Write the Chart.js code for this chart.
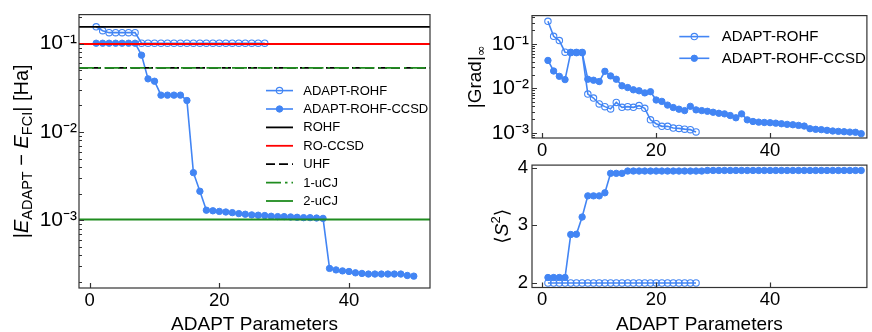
<!DOCTYPE html>
<html><head><meta charset="utf-8">
<script src="https://cdn.jsdelivr.net/npm/chart.js@4.4.1/dist/chart.umd.min.js"></script>
<style>
html,body{margin:0;padding:0;background:#fff}
#wrap{position:relative;width:872px;height:332px;overflow:hidden;background:#fff}
canvas{position:absolute}
</style></head><body>
<div id="wrap">
<canvas id="cE" width="440" height="332" style="left:0;top:0"></canvas>
<canvas id="cG" width="432" height="168" style="left:440px;top:0"></canvas>
<canvas id="cS" width="432" height="182" style="left:440px;top:150px"></canvas>
</div>
<script>
// ---------------- data ----------------
const paramsRohf = [1,2,3,4,5,6,7,8,9,10,11,12,13,14,15,16,17,18,19,20,21,22,23,24,25,26,27];
const paramsCcsdEnergy = [1,2,3,4,5,6,7,8,9,10,11,12,13,14,15,16,17,18,19,20,21,22,23,24,25,26,27,28,29,30,31,32,33,34,35,36,37,38,39,40,41,42,43,44,45,46,47,48,49,50];
const paramsCcsdGrad = [1,2,3,4,5,6,7,8,9,10,11,12,13,14,15,16,17,18,19,20,21,22,23,24,25,26,27,28,29,30,31,32,33,34,35,36,37,38,39,40,41,42,43,44,45,46,47,48,49,50,51,52,53,54,55,56];

const energyRohf = [0.155,0.140,0.133,0.133,0.133,0.133,0.133,0.101,0.101,0.101,
  0.101,0.101,0.101,0.101,0.101,0.101,0.101,0.101,0.101,0.101,
  0.101,0.101,0.101,0.101,0.101,0.101,0.101];
const energyCcsd = [0.101,0.101,0.101,0.101,0.101,0.101,0.101,0.074,0.0399,0.0375,
  0.0261,0.0261,0.0261,0.0261,0.0227,0.00346,0.00213,0.00130,0.00128,0.00126,
  0.00124,0.00122,0.00119,0.00117,0.00115,0.00114,0.00113,0.00111,0.00110,0.00110,
  0.00109,0.00108,0.00107,0.00107,0.00106,0.00105,0.000285,0.000274,0.000267,0.000263,
  0.000254,0.000250,0.000246,0.000246,0.000246,0.000246,0.000246,0.000246,0.000237,0.000233];

const refNames = ['ROHF','RO-CCSD','UHF','1-uCJ','2-uCJ'];
const refValues = [0.155,0.099,0.0531,0.0531,0.00102];

const gradRohf = [0.32,0.147,0.118,0.0648,0.0637,0.0637,0.0637,0.00743,0.00605,0.00446,
  0.00388,0.00345,0.00483,0.00374,0.00388,0.00374,0.00409,0.00356,0.00196,0.0016,
  0.0014,0.0014,0.00128,0.00126,0.00121,0.00118,0.00105];
const gradCcsd = [0.0423,0.0245,0.0186,0.0157,0.0637,0.0637,0.0637,0.016,0.0152,0.0142,
  0.0241,0.019,0.016,0.0114,0.0104,0.00927,0.0088,0.0079,0.0084,0.00547,
  0.00509,0.0042,0.0037,0.0034,0.00316,0.00394,0.00328,0.00316,0.00305,0.0029,
  0.00275,0.00267,0.00245,0.00218,0.00267,0.00196,0.0018,0.00174,0.00171,0.00169,
  0.00165,0.0016,0.00155,0.00152,0.00147,0.00142,0.00124,0.0012,0.00118,0.00114,
  0.0011,0.00108,0.00106,0.00104,0.00103,0.00096];

const s2Rohf = [2,2,2,2,2,2,2,2,2,2,2,2,2,2,2,2,2,2,2,2,2,2,2,2,2,2,2];
const s2Ccsd = [2.095,2.095,2.095,2.095,2.84,2.845,3.143,3.51,3.51,3.51,
  3.563,3.9,3.9,3.9,3.94,3.94,3.94,3.94,3.94,3.94,
  3.94,3.94,3.94,3.94,3.94,3.94,3.94,3.94,3.95,3.95,
  3.95,3.95,3.95,3.95,3.95,3.95,3.95,3.95,3.95,3.95,
  3.95,3.95,3.95,3.95,3.95,3.95,3.95,3.95,3.95,3.95,
  3.95,3.95,3.95,3.95,3.95,3.95];

const xTickValues = [0,20,40];
const logTickValues = [0.001,0.01,0.1];
const logTickLabels = ['10\u207B\u00B3','10\u207B\u00B2','10\u207B\u00B9'];
const s2TickValues = [2,3,4];
const s2TickLabels = ['2','3','4'];

// axis ranges
const energyXRange = [-1.65,52.5], energyYRange = [1.71e-4,0.213];
const gradXRange = [-1.8,57.0], gradYRange = [7.66e-4,0.43];
const s2XRange = [-1.8,57.0], s2YRange = [1.922,4.043];

// ---------------- styles ----------------
const TXT = '"Liberation Sans", Arial, Helvetica, sans-serif';
const MATH = '"DejaVu Sans", sans-serif';
const BLUE = '#4285F4';
const GREEN = '#1f8c1f';
const FRAME = '#333333';

const pts = (xs, ys) => xs.map((x, i) => ({x: x, y: ys[i]}));
const hline = (v, r) => [{x: r[0], y: v}, {x: r[1], y: v}];

const openStyle = {borderColor: BLUE, backgroundColor: BLUE, borderWidth: 1.6,
  pointRadius: 3.2, pointBorderWidth: 1.1, pointBackgroundColor: 'rgba(0,0,0,0)',
  pointBorderColor: BLUE, pointStyle: 'circle'};
const filledStyle = {borderColor: BLUE, backgroundColor: BLUE, borderWidth: 1.6,
  pointRadius: 3.2, pointBorderWidth: 1, pointBackgroundColor: BLUE,
  pointBorderColor: BLUE, pointStyle: 'circle'};
const refStyles = [
  {borderColor: '#000000', borderWidth: 1.8},
  {borderColor: '#ff0000', borderWidth: 1.8},
  {borderColor: '#000000', borderWidth: 1.8, borderDash: [9, 4]},
  {borderColor: GREEN, borderWidth: 1.8, borderDash: [15, 4, 2.5, 4]},
  {borderColor: GREEN, borderWidth: 1.8}
];

// ---------------- helpers ----------------
function drawRotated(ctx, segs, cx, cy) {
  ctx.save();
  ctx.translate(cx, cy);
  ctx.rotate(-Math.PI / 2);
  let w = 0;
  segs.forEach(s => { ctx.font = s.font; s.w = ctx.measureText(s.t).width; w += s.w; });
  let x = -w / 2;
  ctx.textBaseline = 'alphabetic'; ctx.textAlign = 'left'; ctx.fillStyle = '#000';
  segs.forEach(s => { ctx.font = s.font; ctx.fillText(s.t, x, s.dy || 0); x += s.w; });
  ctx.restore();
}

function drawLegend(ctx, chart, L) {
  const a = chart.chartArea;
  L.items.forEach((di, i) => {
    const ds = chart.data.datasets[di];
    const y = a.top + L.dy + i * L.step;
    const x0 = a.left + L.dx, x1 = x0 + L.len;
    ctx.save();
    ctx.strokeStyle = ds.borderColor; ctx.lineWidth = ds.borderWidth;
    ctx.setLineDash(ds.borderDash || []);
    ctx.beginPath(); ctx.moveTo(x0, y); ctx.lineTo(x1, y); ctx.stroke();
    ctx.setLineDash([]);
    if (ds.pointRadius > 0) {
      ctx.beginPath(); ctx.arc((x0 + x1) / 2, y, ds.pointRadius, 0, Math.PI * 2);
      ctx.fillStyle = ds.pointBackgroundColor; ctx.fill();
      ctx.lineWidth = ds.pointBorderWidth; ctx.strokeStyle = ds.pointBorderColor; ctx.stroke();
    }
    ctx.fillStyle = '#000'; ctx.font = L.font; ctx.textBaseline = 'middle'; ctx.textAlign = 'left';
    ctx.fillText(ds.label, x1 + L.gap, y + 0.5);
    ctx.restore();
  });
}

function decorPlugin(cfg) {
  return {
    id: 'decor',
    afterDraw(chart) {
      const ctx = chart.ctx, a = chart.chartArea, xs = chart.scales.x, ys = chart.scales.y;
      ctx.save();
      ctx.strokeStyle = FRAME; ctx.lineWidth = 1.2;
      ctx.beginPath();
      xs.ticks.forEach(t => { const p = Math.round(xs.getPixelForValue(t.value)) + 0.5; ctx.moveTo(p, a.bottom); ctx.lineTo(p, a.bottom - 5); });
      ys.ticks.forEach(t => { const p = Math.round(ys.getPixelForValue(t.value)) + 0.5; ctx.moveTo(a.left, p); ctx.lineTo(a.left + 5, p); });
      if (cfg.log) {
        const lo = Math.floor(Math.log10(ys.min)), hi = Math.ceil(Math.log10(ys.max));
        for (let k = lo; k <= hi; k++) {
          for (let m = 2; m <= 9; m++) {
            const v = m * Math.pow(10, k);
            if (v > ys.min && v < ys.max) {
              const p = Math.round(ys.getPixelForValue(v)) + 0.5;
              ctx.moveTo(a.left, p); ctx.lineTo(a.left + 3, p);
            }
          }
        }
      }
      ctx.stroke();
      ctx.strokeRect(a.left, a.top, a.right - a.left, a.bottom - a.top);
      ctx.restore();
      if (cfg.legend) drawLegend(ctx, chart, cfg.legend);
      if (cfg.xTitle) {
        ctx.save(); ctx.fillStyle = '#000'; ctx.font = '19px ' + TXT;
        ctx.textAlign = 'center'; ctx.textBaseline = 'alphabetic';
        ctx.fillText(cfg.xTitle, (a.left + a.right) / 2, cfg.xTitleY);
        ctx.restore();
      }
      if (cfg.yTitle) drawRotated(ctx, cfg.yTitle, cfg.yTitleX, (a.top + a.bottom) / 2);
    }
  };
}

function makeOptions(o) {
  return {
    responsive: false, animation: false, events: [],
    layout: {padding: o.padding},
    plugins: {legend: {display: false}, tooltip: {enabled: false}},
    scales: {
      x: {type: 'linear', min: o.xr[0], max: o.xr[1],
        afterBuildTicks: s => { s.ticks = xTickValues.map(v => ({value: v})); },
        afterFit: s => { s.height = o.xHeight; },
        grid: {display: false, drawTicks: false}, border: {display: false},
        ticks: {padding: o.xPad, color: '#000', font: {family: TXT, size: 18.5}, maxRotation: 0, autoSkip: false,
          callback: v => String(v)}},
      y: {type: o.log ? 'logarithmic' : 'linear', min: o.yr[0], max: o.yr[1],
        afterBuildTicks: s => { s.ticks = o.yTicks.map(v => ({value: v})); },
        afterFit: s => { s.width = o.yWidth; },
        grid: {display: false, drawTicks: false}, border: {display: false},
        ticks: {padding: o.yPad, color: '#000', font: {family: TXT, size: o.yFont}, autoSkip: false,
          callback: v => { const i = o.yTicks.indexOf(v); return i >= 0 ? o.yLabels[i] : ''; }}}
    }
  };
}

// ---------------- energy chart ----------------
const energyDatasets = [
  Object.assign({label: 'ADAPT-ROHF', data: pts(paramsRohf, energyRohf), order: 11}, openStyle),
  Object.assign({label: 'ADAPT-ROHF-CCSD', data: pts(paramsCcsdEnergy, energyCcsd), order: 10}, filledStyle)
];
refNames.forEach((n, i) => {
  energyDatasets.push(Object.assign({label: n, data: hline(refValues[i], energyXRange), pointRadius: 0, order: 5 - i}, refStyles[i]));
});

new Chart(document.getElementById('cE'), {
  type: 'line',
  data: {datasets: energyDatasets},
  options: makeOptions({padding: {left: 0, top: 14, right: 10, bottom: 0}, xr: energyXRange, yr: energyYRange,
    log: true, yTicks: logTickValues, yLabels: logTickLabels, xHeight: 44, yWidth: 79, xPad: 1.5, yPad: 2, yFont: 21}),
  plugins: [decorPlugin({log: true,
    legend: {items: [0,1,2,3,4,5,6], dx: 187, dy: 76, step: 18.4, len: 27, gap: 10.3, font: '13px ' + TXT},
    xTitle: 'ADAPT Parameters', xTitleY: 330,
    yTitle: [
      {t: '|', font: '20px ' + TXT},
      {t: 'E', font: 'italic 20px ' + TXT},
      {t: 'ADAPT', font: '14.5px ' + TXT, dy: 4},
      {t: ' \u2212 ', font: '20px ' + TXT},
      {t: 'E', font: 'italic 20px ' + TXT},
      {t: 'FCI', font: '14.5px ' + TXT, dy: 4},
      {t: '|', font: '20px ' + TXT},
      {t: ' [Ha]', font: '20px ' + TXT}
    ], yTitleX: 28})]
});

// ---------------- gradient chart ----------------
new Chart(document.getElementById('cG'), {
  type: 'line',
  data: {datasets: [
    Object.assign({label: 'ADAPT-ROHF', data: pts(paramsRohf, gradRohf), order: 2}, openStyle),
    Object.assign({label: 'ADAPT-ROHF-CCSD', data: pts(paramsCcsdGrad, gradCcsd), order: 1}, filledStyle)
  ]},
  options: makeOptions({padding: {left: 0, top: 14, right: 1, bottom: 0}, xr: gradXRange, yr: gradYRange,
    log: true, yTicks: logTickValues, yLabels: logTickLabels, xHeight: 30, yWidth: 92, xPad: 2, yPad: 3, yFont: 21}),
  plugins: [decorPlugin({log: true,
    legend: {items: [0,1], dx: 147.3, dy: 21, step: 21.7, len: 30, gap: 12.4, font: '15px ' + TXT},
    yTitle: [
      {t: '|Grad|', font: '19px ' + TXT},
      {t: '\u221E', font: '13px ' + MATH, dy: 4}
    ], yTitleX: 41})]
});

// ---------------- S^2 chart ----------------
new Chart(document.getElementById('cS'), {
  type: 'line',
  data: {datasets: [
    Object.assign({label: 'ADAPT-ROHF', data: pts(paramsRohf, s2Rohf), order: 2}, openStyle),
    Object.assign({label: 'ADAPT-ROHF-CCSD', data: pts(paramsCcsdGrad, s2Ccsd), order: 1}, filledStyle)
  ]},
  options: makeOptions({padding: {left: 0, top: 14.5, right: 1, bottom: 0}, xr: s2XRange, yr: s2YRange,
    log: false, yTicks: s2TickValues, yLabels: s2TickLabels, xHeight: 44.5, yWidth: 92, xPad: 1.5, yPad: 4, yFont: 18.5}),
  plugins: [decorPlugin({log: false,
    xTitle: 'ADAPT Parameters', xTitleY: 180,
    yTitle: [
      {t: '\u27E8', font: '19px ' + MATH},
      {t: 'S', font: 'italic 19px ' + TXT},
      {t: '2', font: '13px ' + TXT, dy: -8},
      {t: '\u27E9', font: '19px ' + MATH}
    ], yTitleX: 68})]
});
</script>
</body></html>
